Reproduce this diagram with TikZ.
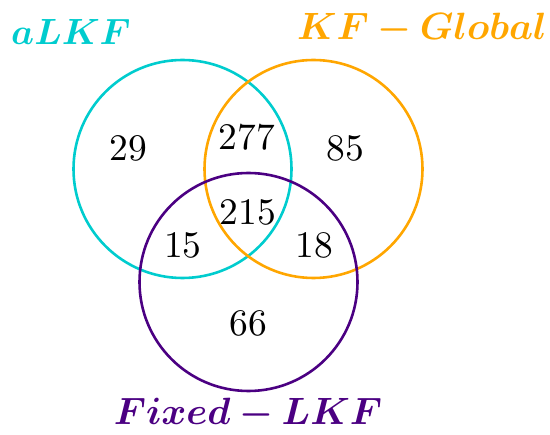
\documentclass[tikz,border=0pt]{standalone}
\usepackage{amsmath,bm}
\definecolor{setA}{RGB}{0,204,206}
\definecolor{setB}{RGB}{255,166,0}
\definecolor{setC}{RGB}{75,0,130}
\begin{document}
\begin{tikzpicture}[x=1pt,y=-1pt,
  setcircle/.style={draw,line width=2.6pt,circle,minimum size=218pt,inner sep=0pt},
  num/.style={inner sep=0pt,scale=3.75},
  setlabel/.style={inner sep=0pt,anchor=base,scale=3.8}]
\useasboundingbox (0,0) rectangle (550,435);
\node[setcircle,draw=setA] (cA) at (182.5,169) {};
\node[setcircle,draw=setB] (cB) at (313.5,169) {};
\node[setcircle,draw=setC] (cC) at (248.5,282) {};
\node[num] (n29) at (128.5,148) {29};
\node[num] (n277) at (247,137) {277};
\node[num] (n85) at (345.5,148) {85};
\node[num] (n215) at (248,212) {215};
\node[num] (n15) at (183,245) {15};
\node[num] (n18) at (314,245) {18};
\node[num] (n66) at (248,323) {66};
\node[setlabel,text=setA,scale=0.96] (lA) at (71,45) {$\bm{aLKF}$};
\node[setlabel,text=setB] (lB) at (422,40) {$\bm{KF-Global}$};
\node[setlabel,text=setC] (lC) at (248,425) {$\bm{Fixed-LKF}$};
\end{tikzpicture}
\end{document}
